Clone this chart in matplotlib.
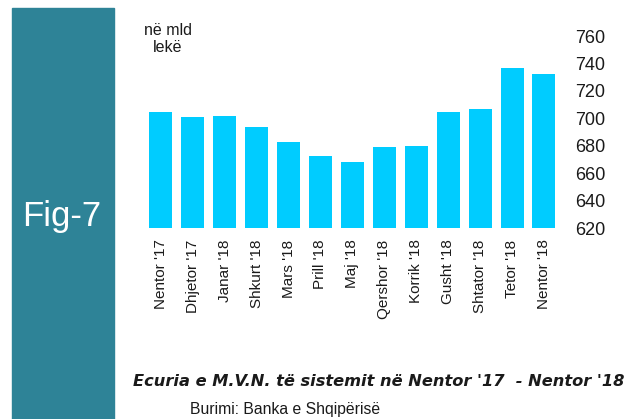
import matplotlib
matplotlib.use("Agg")
import matplotlib.pyplot as plt
from matplotlib.patches import Rectangle

# Data (billion lek)
months = ["Nentor '17", "Dhjetor '17", "Janar '18", "Shkurt '18", "Mars '18",
          "Prill '18", "Maj '18", "Qershor '18", "Korrik '18", "Gusht '18",
          "Shtator '18", "Tetor '18", "Nentor '18"]
values = [705, 701, 702, 694, 683, 673, 668, 679, 680, 705, 707, 737, 732]
yticks = [620, 640, 660, 680, 700, 720, 740, 760]

BAR = "#00CCFF"
TEAL = "#2E8397"
TEXT = "#1a1a1a"

plt.rcParams["font.family"] = ["Liberation Sans", "DejaVu Sans"]

fig = plt.figure(figsize=(6.27, 4.19), dpi=100)
fig.patch.set_facecolor("white")

# left teal band with the figure number
fig.patches.append(Rectangle((12 / 627, 0), 102 / 627, 1 - 8 / 419,
                             transform=fig.transFigure, color=TEAL, zorder=0))
fig.text(62 / 627, 1 - 216 / 419, "Fig-7", color="white", fontsize=25,
         ha="center", va="center")

ax = fig.add_axes([0.231, 0.455, 0.662, 0.459])
x = range(len(months))
ax.bar(x, values, width=0.72, color=BAR, zorder=2)
ax.set_xlim(-0.5, len(months) - 0.5)
ax.set_ylim(620, 760)
ax.set_yticks(yticks)
ax.yaxis.tick_right()
ax.tick_params(axis="y", length=0, pad=11, labelsize=13, labelcolor=TEXT)
ax.set_xticks(list(x))
ax.set_xticklabels(months, rotation=90, fontsize=11, color=TEXT)
ax.tick_params(axis="x", length=0, pad=8)
for s in ax.spines.values():
    s.set_visible(False)

fig.text(168 / 627, 1 - 39 / 419, "në mld\nlekë", fontsize=11.5, color=TEXT,
         ha="center", va="center", linespacing=1.15)

fig.text(1 - 3 / 627, 1 - 381 / 419,
         "Ecuria e M.V.N. të sistemit në Nentor '17  - Nentor '18",
         fontsize=11.7, fontweight="bold", style="italic", color=TEXT,
         family="DejaVu Sans", ha="right", va="center")
fig.text(190 / 627, 1 - 409 / 419, "Burimi: Banka e Shqipërisë",
         fontsize=11.3, color=TEXT, ha="left", va="center")

fig.savefig("out.png", dpi=100)
